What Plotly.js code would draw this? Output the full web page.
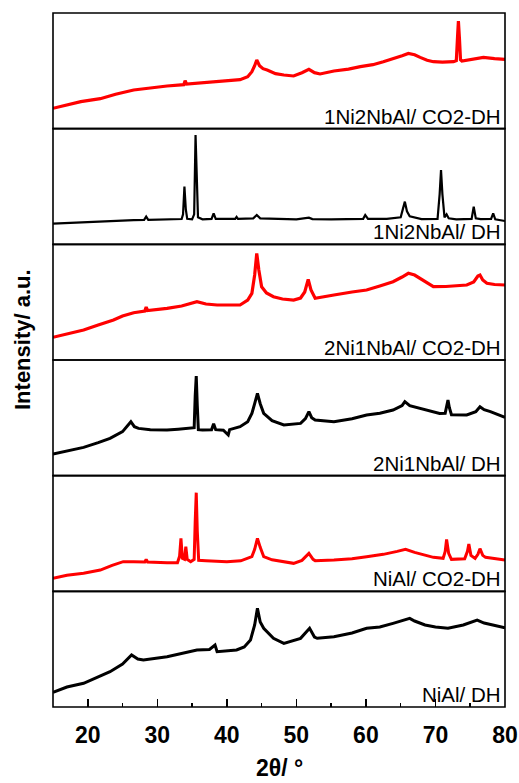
<!DOCTYPE html>
<html>
<head>
<meta charset="utf-8">
<script src="https://cdn.plot.ly/plotly-3.0.1.min.js"></script>
<style>
  html, body { margin: 0; padding: 0; background: #fff; }
  #chart { width: 519px; height: 783px; }
</style>
</head>
<body>
<div id="chart"></div>
<script>
// XRD patterns (2θ in degrees, intensity in a.u.), panels listed top to bottom.
const labels = [
  "1Ni2NbAl/ CO2-DH",
  "1Ni2NbAl/ DH",
  "2Ni1NbAl/ CO2-DH",
  "2Ni1NbAl/ DH",
  "NiAl/ CO2-DH",
  "NiAl/ DH"
];
const colors = ["#ff0000", "#000000", "#ff0000", "#000000", "#ff0000", "#000000"];

const tickValues = [20, 30, 40, 50, 60, 70, 80];
const tickLabels = ["20", "30", "40", "50", "60", "70", "80"];

const theta_1Ni2NbAl_CO2DH = [15,17,19,21.8,24,26.6,29,31.4,33.8,34.0,34.2,36,38.6,40.5,41.9,43,43.6,44.0,44.3,44.7,45.2,45.8,47,48.2,49.6,50.8,51.8,52.6,53.4,55.4,57.5,59.2,61,62.5,64,65.2,66.1,67,67.8,68.8,69.7,71,72.6,73.0,73.2,73.3,73.45,73.6,73.8,75.3,76.9,78.5,80];
const int_1Ni2NbAl_CO2DH   = [20.4,23.5,27,30,34.5,38.7,41,42.7,44,48,44.5,45.5,47,48,49,52,57,63,68.7,63,60,58.7,55,53.7,52.7,56,59.3,56,54.7,57.7,59.5,62,64,67,70,73,75.3,74,71.3,68.5,67,66.5,67,68,95,107.7,90,69,67.7,69.5,71.3,70,69.3];

const theta_1Ni2NbAl_DH = [15,18,21.8,24,26.6,28.1,28.4,28.7,31.4,33.5,33.7,33.9,34.1,34.3,35.0,35.3,35.5,35.7,35.85,36.5,37.8,38.1,38.4,40,41.2,41.4,41.6,43.8,44.3,44.8,47,50,51.8,52.3,55,58,59.6,59.9,60.3,63,65.0,65.3,65.6,65.9,66.3,68,70.3,70.6,70.8,71.0,71.3,71.6,71.9,73,75.2,75.5,75.8,76.5,78.0,78.3,78.6,80];
const int_1Ni2NbAl_DH   = [20.7,21.8,22.7,23.5,24.3,24.5,27.7,24.5,24.7,25.3,30,57.7,35,25.5,25,30,109.3,70,27,25,25.5,31,25.5,25.5,25.5,27.5,25.5,26,29.3,26,25.3,25,26.7,25.3,25,25,25.5,29.3,25.5,25.5,27,35,42.7,33,28,25.3,25.5,50,74.3,50,27,30,26,25,25.5,37.7,26,25.3,25.5,31,25,23.3];

const theta_2Ni1NbAl_CO2DH = [15,17,19.4,21.5,23.7,25,26.6,28.2,28.4,28.6,30,31.4,33.5,35.7,37,38.6,40.5,41.9,43,43.6,44.0,44.3,44.6,45.0,45.7,46.7,48,49.6,50.6,51.2,51.7,52.1,52.7,54,55.4,58,60.1,62,63.9,65.2,66.1,67,67.8,68.8,69.7,71.5,73,74.5,75.5,76.1,76.4,76.8,77.4,78.5,80];
const int_2Ni1NbAl_CO2DH   = [22.7,26,30,35,40,44,47.3,49,53,49.5,50.5,51.7,54,58.3,56,55,55,55,60,66.7,85,106.7,90,73.3,67,63.3,61,60,62,68,80.7,70,61.7,63,65,68,70,74,78.3,83,86.7,85,81.7,77,73.3,73.5,74,75,78,84,85,80,76.7,75.5,75];

const theta_2Ni1NbAl_DH = [15,17,19.4,21.5,23.2,25,25.8,26.2,26.7,27.3,29,31.4,33,34.7,35.3,35.45,35.6,35.75,35.9,36.5,37.8,38.1,38.4,39.5,40.2,40.4,41.9,43,43.6,44.0,44.4,44.8,45.3,46.5,48.2,50.6,51.3,51.8,52.2,52.7,55.4,58,60.1,62,63.9,65.2,65.6,66.3,67.8,69,70.6,71.4,71.6,71.8,72.0,72.3,74.5,75.8,76.4,77,77.9,79,80];
const int_2Ni1NbAl_DH   = [21.7,25,28.3,33,37.3,44,50,54,49,47.3,46,45.7,46.5,47.3,48,80,99.7,70,46,45.7,46,52,46,45.5,40.7,46,49,54,62.3,72,82.3,72,62.3,55,50.7,52.3,57,64,58,55.7,54,57,60.7,62.5,65.7,70,74,70,67.3,65,62.3,62.5,70,75.7,68,61,60.7,64,69,66,64,61,58.3];

const theta_NiAl_CO2DH = [15,17,19.4,21.8,23.5,25.1,26.6,28.2,28.4,28.6,31.4,32.9,33.2,33.4,33.6,33.9,34.1,34.3,34.8,35.3,35.45,35.6,35.75,35.95,37,40,42,43.6,44.0,44.4,44.8,45.3,46.5,49.6,50.8,51.8,52.4,52.7,55.4,58,60.1,62.5,64.5,65.7,67,69.7,71.1,71.4,71.6,71.9,72.3,74.2,74.6,74.8,75.1,75.7,76.1,76.4,76.8,77.2,80];
const int_NiAl_CO2DH   = [13,16,18,21.3,26,29.7,29.5,29.3,32,29.3,28.7,28.7,35,53,33,32,44.7,32,29.7,32,70,98.7,60,31,30.7,29.7,30.5,34.7,42,53,44,34.7,31.5,28,31,38,32,30.7,31.3,32.5,34.7,37,40,42,39,34,33,40,52,38,32,32.5,40,47.3,36,33,37,42.7,36,34,31.3];

const theta_NiAl_DH = [15,17,19.4,21.5,23.2,25,26.3,27.2,28.0,31.4,33,35.7,37.5,38.3,38.6,40,41.4,42.5,43.4,44.0,44.4,44.8,45.3,46.7,48.2,50.6,51.9,52.6,53.0,55.4,58,60.1,62,63.9,65.3,66.3,67,68.5,70,71.8,74,75.2,76.0,77,78.5,80];
const int_NiAl_DH   = [14.7,20,23.7,30,35.3,43,52,48,47,50.3,53,57,57.5,62,55.3,56,57,60,67,82,98.7,85,78.7,68.7,63.7,68.7,78.7,70,68.7,70.3,74,78.7,80,83.7,86.5,88.7,86,82,80,78.7,82,85,87,84,82,79.3];

const thetas = [theta_1Ni2NbAl_CO2DH, theta_1Ni2NbAl_DH, theta_2Ni1NbAl_CO2DH, theta_2Ni1NbAl_DH, theta_NiAl_CO2DH, theta_NiAl_DH];
const intensities = [int_1Ni2NbAl_CO2DH, int_1Ni2NbAl_DH, int_2Ni1NbAl_CO2DH, int_2Ni1NbAl_DH, int_NiAl_CO2DH, int_NiAl_DH];
const lineWidths = [3.2, 2.2, 3.2, 3.0, 3.0, 3.0];

const FONT = "Liberation Sans, Arial, Helvetica, sans-serif";
const nPanels = labels.length;
const step = 1 / nPanels;

const traces = [];
const shapes = [];
const annotations = [];
const layout = {
  width: 519,
  height: 783,
  margin: { l: 53, r: 14, t: 13, b: 76 },
  paper_bgcolor: "#ffffff",
  plot_bgcolor: "#ffffff",
  showlegend: false,
  font: { family: FONT, color: "#000" },
  xaxis: {
    range: [15, 80],
    tickmode: "array",
    tickvals: tickValues,
    ticktext: tickLabels.map(t => "<b>" + t + "</b>"),
    ticks: "inside",
    ticklen: 8,
    tickwidth: 1.5,
    tickcolor: "#000",
    ticklabelstandoff: 12,
    minor: { dtick: 5, tick0: 0, ticks: "inside", ticklen: 4, tickwidth: 1.5, tickcolor: "#000" },
    showgrid: false,
    zeroline: false,
    showline: false,
    tickfont: { family: FONT, size: 23, color: "#000" },
    anchor: "y6",
    fixedrange: true
  }
};

for (let i = 0; i < nPanels; i++) {
  const axisId = i === 0 ? "y" : "y" + (i + 1);
  const axisKey = i === 0 ? "yaxis" : "yaxis" + (i + 1);
  const bottom = 1 - (i + 1) * step;
  const top = 1 - i * step;

  traces.push({
    x: thetas[i],
    y: intensities[i],
    type: "scatter",
    mode: "lines",
    line: { color: colors[i], width: lineWidths[i], shape: "linear" },
    xaxis: "x",
    yaxis: axisId,
    hoverinfo: "skip"
  });

  layout[axisKey] = {
    domain: [bottom, top],
    range: [0, 115.7],
    showticklabels: false,
    ticks: "",
    showgrid: false,
    zeroline: false,
    showline: false,
    anchor: "x",
    fixedrange: true
  };

  // panel frame
  shapes.push({
    type: "rect", xref: "paper", yref: "paper",
    x0: 0, x1: 1, y0: bottom, y1: top,
    line: { color: "#000", width: 1.6 },
    fillcolor: "rgba(0,0,0,0)",
    layer: "above"
  });

  // sample name, bottom-right of each panel
  annotations.push({
    text: labels[i],
    xref: "paper", yref: "paper",
    x: 0.994, y: bottom,
    xanchor: "right", yanchor: "bottom",
    showarrow: false,
    borderpad: 0,
    yshift: 0,
    font: { family: FONT, size: 20.5, color: "#000" }
  });
}

annotations.push({
  text: "<b>Intensity/ a.u.</b>",
  xref: "paper", yref: "paper",
  x: -0.069, y: 0.53,
  xanchor: "center", yanchor: "middle",
  textangle: -90,
  showarrow: false,
  font: { family: FONT, size: 22, color: "#000" }
});

annotations.push({
  text: "<b>2θ/ °</b>",
  xref: "paper", yref: "paper",
  x: 0.502, y: -0.088,
  xanchor: "center", yanchor: "middle",
  showarrow: false,
  font: { family: FONT, size: 23, color: "#000" }
});

layout.shapes = shapes;
layout.annotations = annotations;

Plotly.newPlot("chart", traces, layout, { displayModeBar: false, staticPlot: true });
</script>
</body>
</html>
